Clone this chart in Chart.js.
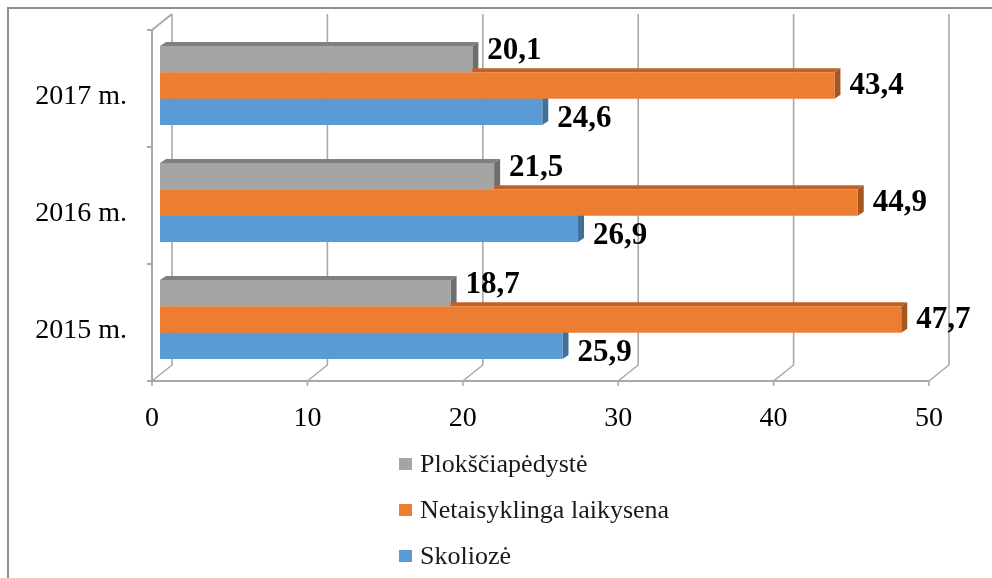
<!DOCTYPE html>
<html lang="lt">
<head>
<meta charset="utf-8">
<title>Skoliozė, netaisyklinga laikysena ir plokščiapėdystė 2015–2017 m.</title>
<script src="https://cdn.jsdelivr.net/npm/chart.js@4.4.1/dist/chart.umd.min.js"></script>
<style>
  html, body { margin: 0; padding: 0; background: #fff; }
  #wrap { position: relative; width: 992px; height: 578px; overflow: hidden; }
  #frame { position: absolute; left: 7px; top: 7px; right: -10px; bottom: -10px;
           border-top: 2px solid #8e8e8e; border-left: 2px solid #8e8e8e; }
  #chart { position: absolute; left: 0; top: 0; }
  #legend { position: absolute; left: 399px; top: 441px;
            font-family: "Liberation Serif", "Times New Roman", serif; font-size: 26px; color: #1a1a1a; }
  .lg-item { display: flex; align-items: center; height: 46px; white-space: nowrap; }
  .lg-swatch { width: 13px; height: 12px; margin-right: 8px; flex: none; }
</style>
</head>
<body>
<div id="wrap">
  <div id="frame"></div>
  <canvas id="chart" width="992" height="578"></canvas>
  <div id="legend"></div>
</div>
<script>
// ── Data ──
const categories = ['2017 m.', '2016 m.', '2015 m.'];
const seriesNames = ['Plokščiapėdystė', 'Netaisyklinga laikysena', 'Skoliozė'];
const flatFeet = [20.1, 21.5, 18.7];
const posture = [43.4, 44.9, 47.7];
const scoliosis = [24.6, 26.9, 25.9];
const xTicks = [0, 10, 20, 30, 40, 50];

// ── Styling ──
const FRONT = ['#a5a5a5', '#ed7d31', '#5b9bd5'];
const TOP = ['#808080', '#bf6226', '#4a80b3'];
const SIDE = ['#6e6e6e', '#a8561f', '#41709b'];
const GRID = '#a9a9a9';
const SERIF = '"Liberation Serif", "Times New Roman", serif';

// 3D look: front plane sits a bit left/below the bars, back wall further right/up
const FRONT_DX = -8, FRONT_DY = 3;
const DEPTH_X = 20, DEPTH_Y = -16;
const BAR_DX = 6, BAR_DY = -4;
const LABEL_GAP = 15;
const LABEL_DY = [-8, 0, 7];

const fmt = v => v.toFixed(1).replace('.', ',');

document.addEventListener('DOMContentLoaded', function () {
  const $ = id => document.getElementById(id);

  const excel3d = {
    id: 'excel3d',
    beforeDatasetsDraw(chart) {
      const { ctx } = chart;
      const xs = chart.scales.x, ys = chart.scales.y;
      const floorY = ys.bottom + FRONT_DY;
      const topY = ys.top + FRONT_DY;
      const x0 = xs.getPixelForValue(0) + FRONT_DX;
      const x1 = xs.getPixelForValue(xTicks[xTicks.length - 1]) + FRONT_DX;

      ctx.save();
      ctx.strokeStyle = GRID;
      ctx.lineWidth = 1.6;
      ctx.lineJoin = 'round';

      // back wall gridlines + floor slants + tick marks
      xs.ticks.forEach(t => {
        const fx = xs.getPixelForValue(t.value) + FRONT_DX;
        ctx.beginPath();
        ctx.moveTo(fx, floorY + 5);
        ctx.lineTo(fx, floorY);
        ctx.lineTo(fx + DEPTH_X, floorY + DEPTH_Y);
        ctx.lineTo(fx + DEPTH_X, topY + DEPTH_Y);
        ctx.stroke();
      });

      // front floor edge
      ctx.lineWidth = 2;
      ctx.beginPath();
      ctx.moveTo(x0, floorY);
      ctx.lineTo(x1, floorY);
      ctx.stroke();

      // left wall
      ctx.beginPath();
      ctx.moveTo(x0 + DEPTH_X, topY + DEPTH_Y);
      ctx.lineTo(x0, topY);
      ctx.lineTo(x0, floorY);
      ctx.stroke();
      const n = categories.length;
      for (let i = 0; i <= n; i++) {
        const by = topY + i * (floorY - topY) / n;
        ctx.beginPath();
        ctx.moveTo(x0 - 5, by);
        ctx.lineTo(x0, by);
        ctx.stroke();
      }

      // top and end faces of every bar (front faces are drawn by Chart.js)
      chart.data.datasets.forEach((ds, i) => {
        chart.getDatasetMeta(i).data.forEach(el => {
          const p = el.getProps(['x', 'y', 'base', 'height'], true);
          const top = p.y - p.height / 2, bot = p.y + p.height / 2;
          ctx.fillStyle = TOP[i];
          ctx.beginPath();
          ctx.moveTo(p.base, top);
          ctx.lineTo(p.base + BAR_DX, top + BAR_DY);
          ctx.lineTo(p.x + BAR_DX, top + BAR_DY);
          ctx.lineTo(p.x, top);
          ctx.closePath();
          ctx.fill();
          ctx.fillStyle = SIDE[i];
          ctx.beginPath();
          ctx.moveTo(p.x, top);
          ctx.lineTo(p.x + BAR_DX, top + BAR_DY);
          ctx.lineTo(p.x + BAR_DX, bot + BAR_DY);
          ctx.lineTo(p.x, bot);
          ctx.closePath();
          ctx.fill();
        });
      });
      ctx.restore();
    },
    afterDatasetsDraw(chart) {
      const { ctx } = chart;
      ctx.save();
      ctx.fillStyle = '#000';
      ctx.font = 'bold 31px ' + SERIF;
      ctx.textAlign = 'left';
      ctx.textBaseline = 'middle';
      chart.data.datasets.forEach((ds, i) => {
        chart.getDatasetMeta(i).data.forEach((el, j) => {
          const p = el.getProps(['x', 'y'], true);
          ctx.fillText(fmt(ds.data[j]), p.x + LABEL_GAP, p.y + LABEL_DY[i]);
        });
      });
      ctx.restore();
    }
  };

  const seriesData = [flatFeet, posture, scoliosis];

  new Chart($('chart'), {
    type: 'bar',
    data: {
      labels: categories,
      datasets: seriesNames.map((name, i) => ({
        label: name,
        data: seriesData[i],
        backgroundColor: FRONT[i],
        borderWidth: 0,
        categoryPercentage: 0.675,
        barPercentage: 1
      }))
    },
    options: {
      responsive: false,
      animation: false,
      indexAxis: 'y',
      layout: { padding: { left: 0, right: 55, top: 27, bottom: 0 } },
      plugins: { legend: { display: false }, tooltip: { enabled: false } },
      scales: {
        x: {
          min: 0,
          max: 50,
          afterFit: s => { s.height = 200; s.paddingLeft = 0; s.paddingRight = 0; },
          afterBuildTicks: s => { s.ticks = xTicks.map(v => ({ value: v })); },
          grid: { display: false, drawTicks: false },
          border: { display: false },
          ticks: { padding: 24, labelOffset: FRONT_DX, color: '#000', font: { family: SERIF, size: 28 } }
        },
        y: {
          afterFit: s => { s.width = 160; s.paddingTop = 0; s.paddingBottom = 0; },
          grid: { display: false, drawTicks: false },
          border: { display: false },
          ticks: { padding: 33, labelOffset: 11, color: '#000', font: { family: SERIF, size: 28 } }
        }
      }
    },
    plugins: [excel3d]
  });

  // ── Vertical legend (HTML, like the original) ──
  const legendEl = $('legend');
  seriesNames.forEach((name, i) => {
    const item = document.createElement('div');
    item.className = 'lg-item';
    item.innerHTML = `<span class="lg-swatch" style="background-color:${FRONT[i]}"></span><span>${name}</span>`;
    legendEl.appendChild(item);
  });
});
</script>
</body>
</html>
